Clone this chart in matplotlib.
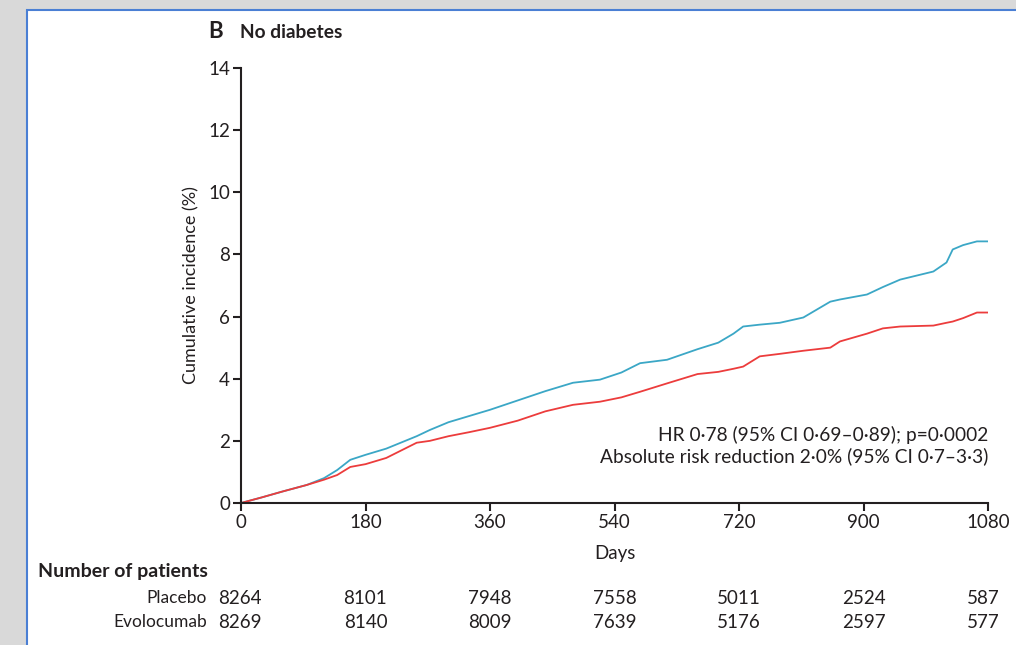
import numpy as np
import matplotlib.pyplot as plt
from matplotlib.patches import Rectangle

plt.rcParams['font.family'] = ['Lato', 'DejaVu Sans']

# curves (days, cumulative incidence %)
days = [0, 30, 60, 95, 120, 139, 158, 180, 210, 254, 273, 300, 330, 360, 400, 440,
        480, 519, 550, 577, 616, 660, 690, 712, 726, 750, 779, 813, 852, 866, 905,
        928, 953, 1001, 1020, 1029, 1044, 1064, 1080]
placebo = [0, 0.18, 0.37, 0.58, 0.8, 1.06, 1.39, 1.55, 1.75, 2.15, 2.35, 2.6, 2.8,
           3.0, 3.3, 3.6, 3.87, 3.97, 4.2, 4.5, 4.61, 4.95, 5.16, 5.45, 5.68, 5.74,
           5.8, 5.97, 6.48, 6.55, 6.71, 6.95, 7.19, 7.45, 7.74, 8.16, 8.3, 8.42, 8.42]
evolocumab = [0, 0.18, 0.37, 0.58, 0.75, 0.9, 1.16, 1.25, 1.45, 1.94, 2.0, 2.15, 2.28,
              2.42, 2.65, 2.95, 3.16, 3.26, 3.4, 3.58, 3.85, 4.15, 4.22, 4.32, 4.39,
              4.72, 4.8, 4.9, 5.0, 5.2, 5.45, 5.62, 5.68, 5.71, 5.8, 5.84, 5.95, 6.13,
              6.13]

x_ticks = [0, 180, 360, 540, 720, 900, 1080]
y_ticks = [0, 2, 4, 6, 8, 10, 12, 14]
n_placebo = [8264, 8101, 7948, 7558, 5011, 2524, 587]
n_evolocumab = [8269, 8140, 8009, 7639, 5176, 2597, 577]

txt = '#231f20'
blue = '#3ba7c6'
red = '#ec3c3c'

fig = plt.figure(figsize=(10.16, 6.45), dpi=100)
fig.patch.set_facecolor('#d9d9d9')
# white panel with blue frame
fig.patches.append(Rectangle((27 / 1016, -0.05), 0.5 + 984 / 1016, 1 - 10 / 645 + 0.05,
                             transform=fig.transFigure, facecolor='white',
                             edgecolor='#4a7fd4', linewidth=1.5, zorder=-5))

ax = fig.add_axes([241 / 1016, 1 - 503 / 645, 747 / 1016, 435 / 645])
ax.set_zorder(2)
ax.patch.set_alpha(0)
ax.plot(days, placebo, color=blue, lw=1.3)
ax.plot(days, evolocumab, color=red, lw=1.3)

ax.set_xlim(0, 1080)
ax.set_ylim(0, 14)
ax.set_xticks(x_ticks)
ax.set_yticks(y_ticks)
for s in ['top', 'right']:
    ax.spines[s].set_visible(False)
for s in ['left', 'bottom']:
    ax.spines[s].set_color(txt)
    ax.spines[s].set_linewidth(1.5)
ax.tick_params(direction='out', length=6, width=1.5, color=txt, labelcolor=txt,
               labelsize=13.5, pad=2)
ax.set_xlabel('Days', fontsize=13.5, color=txt, labelpad=10)
ax.set_ylabel('Cumulative incidence (%)', fontsize=13, color=txt, labelpad=6)

ax.text(1080, 1.85, 'HR 0·78 (95% CI 0·69–0·89); p=0·0002\n'
        'Absolute risk reduction 2·0% (95% CI 0·7–3·3)',
        ha='right', va='center', fontsize=13.8, color=txt, linespacing=1.25)

# panel title
fig.text(208 / 1016, 1 - 31 / 645, 'B', fontsize=16, fontweight='bold',
         color=txt, va='center', zorder=3)
fig.text(240 / 1016, 1 - 33 / 645, 'No diabetes', fontsize=13.8, fontweight='bold',
         color=txt, va='center', zorder=3)

# number at risk table
fig.text(38 / 1016, 1 - 571 / 645, 'Number of patients', fontsize=14,
         fontweight='bold', color=txt, va='center', zorder=3)
for label, counts, yp in [('Placebo', n_placebo, 598), ('Evolocumab', n_evolocumab, 622)]:
    fig.text(207 / 1016, 1 - yp / 645, label, ha='right', va='center',
             fontsize=12.5, color=txt, zorder=3)
    for d, n in zip(x_ticks, counts):
        xp = (241 + d * 747 / 1080) / 1016
        ha = 'center'
        if d == 1080:
            xp = 1000 / 1016
            ha = 'right'
        elif d == 0:
            xp = 218 / 1016
            ha = 'left'
        fig.text(xp, 1 - yp / 645, str(n), ha=ha, va='center', fontsize=13.5,
                 color=txt, zorder=3)

fig.savefig('out.png', dpi=100, facecolor=fig.get_facecolor())
